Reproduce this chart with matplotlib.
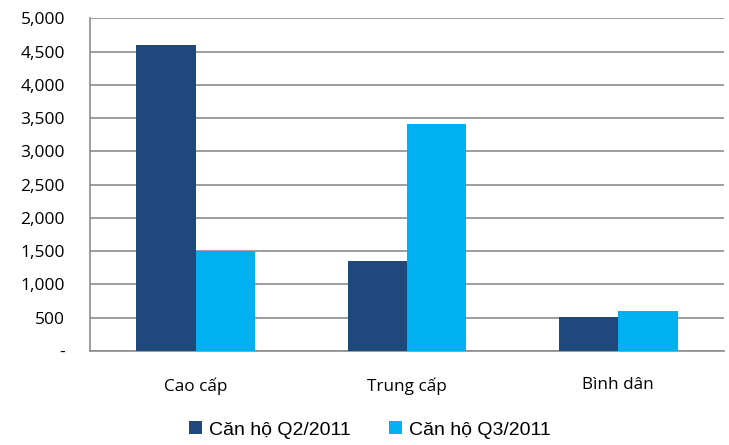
import matplotlib
matplotlib.use("Agg")
import matplotlib.pyplot as plt
import numpy as np
from matplotlib.patches import Patch

categories = ["Cao cấp", "Trung cấp", "Bình dân"]
series_names = ["Căn hộ Q2/2011", "Căn hộ Q3/2011"]
q2_values = [4600, 1350, 510]
q3_values = [1510, 3410, 600]
y_ticks = [0, 500, 1000, 1500, 2000, 2500, 3000, 3500, 4000, 4500, 5000]
y_tick_labels = ["-", "500", "1,000", "1,500", "2,000", "2,500", "3,000",
                 "3,500", "4,000", "4,500", "5,000"]

colors = ["#1F497D", "#00B0F0"]

fig = plt.figure(figsize=(7.29, 4.45), dpi=100)
ax = fig.add_axes([90 / 729, 1 - 351 / 445, (724 - 90) / 729, (351 - 18.3) / 445])

x = np.arange(len(categories))
w = 0.28
ax.bar(x - w / 2, q2_values, width=w, color=colors[0], zorder=3)
ax.bar(x + w / 2, q3_values, width=w, color=colors[1], zorder=3)

ax.set_xlim(-0.5, len(categories) - 0.5)
ax.set_ylim(0, 5000)
ax.set_yticks(y_ticks)
ax.set_yticklabels(y_tick_labels, fontfamily="Open Sans", fontsize=12.5, color="#000000")
ax.set_xticks(x)
ax.set_xticklabels(categories, fontfamily="Open Sans", fontsize=12.3)
ax.tick_params(axis="both", length=0)
ax.tick_params(axis="y", pad=18)
ax.tick_params(axis="x", pad=19)
for lbl in ax.get_yticklabels():
    lbl.set_horizontalalignment("right")

ax.yaxis.grid(True, color="#8C8C8C", linewidth=1.2, zorder=0)
ax.set_axisbelow(True)
for side in ["top", "right"]:
    ax.spines[side].set_visible(False)
ax.spines["left"].set_color("#8C8C8C")
ax.spines["left"].set_linewidth(1.2)
ax.spines["bottom"].set_color("#8C8C8C")
ax.spines["bottom"].set_linewidth(1.2)

handles = [Patch(facecolor=c, label=n) for c, n in zip(colors, series_names)]
fig.legend(handles=handles, loc="center", bbox_to_anchor=(370 / 729, 1 - 430 / 445),
           ncol=2, frameon=False, prop={"family": "Liberation Sans", "size": 14},
           handlelength=0.65, handleheight=0.65, handletextpad=0.35, columnspacing=2.0)

fig.savefig("out.png", dpi=100)
